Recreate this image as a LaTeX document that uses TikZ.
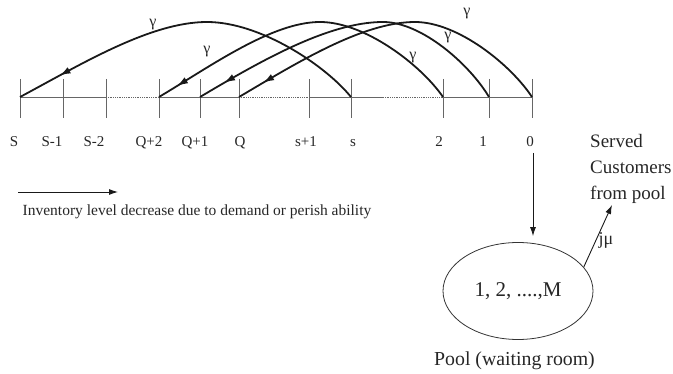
\documentclass[tikz,border=0pt]{standalone}
\usepackage{fontspec}
\setmainfont{Liberation Serif}
\usetikzlibrary{arrows.meta,decorations.markings,shapes.geometric}
\begin{document}
\begin{tikzpicture}[x=1pt,y=-1pt,
  axisline/.style={draw=black!60,line width=0.8pt},
  dotseg/.style={draw=black!60,line width=0.9pt,dash pattern=on 0.9pt off 0.9pt},
  lab/.style={anchor=base,inner sep=0pt,font=\fontsize{15}{18}\selectfont,text=black!85},
  glab/.style={inner sep=0pt,font=\fontsize{16}{18}\selectfont,text=black!85},
  arc/.style={line width=1.8pt,draw=black!90},
  arcmark/.style={postaction={decorate,decoration={markings,
      mark=at position #1 with {\arrow{Latex[length=11pt,width=7pt]}}}}},
  tip/.style={-{Latex[length=9pt,width=6pt]},line width=0.9pt,draw=black!90},
  srvtxt/.style={anchor=base west,inner sep=0pt,font=\fontsize{19}{26}\selectfont,text=black!85}
]
\useasboundingbox (0,0) rectangle (673,374);

% tick positions
\coordinate (tS)  at (20,97);
\coordinate (tS1) at (63,97);
\coordinate (tS2) at (106,97);
\coordinate (tQ2) at (159,97);
\coordinate (tQ1) at (200,97);
\coordinate (tQ)  at (239,97);
\coordinate (ts1) at (309,97);
\coordinate (ts)  at (351,97);
\coordinate (d1)  at (383,97);
\coordinate (t2)  at (443,97);
\coordinate (t1)  at (489,97);
\coordinate (t0)  at (532,97);

% axis
\draw[axisline] (tS) -- (tS2);
\draw[dotseg] (tS2) -- (tQ2);
\draw[axisline] (tQ2) -- (tQ);
\draw[dotseg] (tQ) -- (ts1);
\draw[axisline] (ts1) -- (d1);
\draw[dotseg] (d1) -- (t2);
\draw[axisline] (t2) -- (t0);
\foreach \n in {tS,tS1,tS2,tQ2,tQ1,tQ,ts1,ts,t2,t1,t0}
  \draw[axisline] (\n) ++(0,-18) -- ++(0,39);

% labels
\node[lab] (lS)  at (14,147)  {S};
\node[lab] (lS1) at (52,147)  {S-1};
\node[lab] (lS2) at (94,147)  {S-2};
\node[lab] (lQ2) at (149,147) {Q+2};
\node[lab] (lQ1) at (195,147) {Q+1};
\node[lab] (lQ)  at (240,147) {Q};
\node[lab] (ls1) at (306,147) {s+1};
\node[lab] (ls)  at (353,147) {s};
\node[lab] (l2)  at (439,147) {2};
\node[lab] (l1)  at (483,147) {1};
\node[lab] (l0)  at (530,147) {0};

% arcs
\draw[arc,arcmark=-45pt] (ts) .. controls (325,65) and (260,22) .. (207,22)
   .. controls (150,22) and (80,65) .. (tS);
\draw[arc,arcmark=-21pt] (t2) .. controls (421,65) and (365,22) .. (320,22)
   .. controls (272,22) and (211,66) .. (tQ2);
\draw[arc,arcmark=-28pt] (t1) .. controls (470,65) and (422,22) .. (383,22)
   .. controls (328,22) and (259,62) .. (tQ1);
\draw[arc,arcmark=-28pt] (t0) .. controls (511,65) and (458,22) .. (415,22)
   .. controls (362,22) and (295,64) .. (tQ);

% gamma labels
\node[glab] (g1) at (153,25) {γ};
\node[glab] (g2) at (207,52) {γ};
\node[glab] (g3) at (413,58) {γ};
\node[glab] (g4) at (448,38) {γ};
\node[glab] (g5) at (467,14) {γ};

% inventory arrow
\coordinate (ia) at (18,192);
\coordinate (ib) at (118,192);
\draw[tip] (ia) -- (ib);
\node[lab,font=\fontsize{15.5}{18}\selectfont] (inv) at (197,216)
  {Inventory level decrease due to demand or perish ability};

% pool
\node[draw=black!80,line width=0.8pt,ellipse,minimum width=150pt,minimum height=97pt,
  inner sep=0pt,font=\fontsize{21}{24}\selectfont,text=black!85] (pool) at (518,291) {1, 2, ....,M};
\node[lab,font=\fontsize{19.8}{22}\selectfont] (poollab) at (514.5,366) {Pool (waiting room)};
\coordinate (c0) at (533,153);
\draw[tip] (c0) -- ([yshift=6pt]pool.north -| c0);

% served
\node[srvtxt] (srv) at (590,148) {Served};
\node[srvtxt] (cus) at (590,174) {Customers};
\node[srvtxt] (frm) at (590,200) {from pool};
\coordinate (sv) at (612,205);
\draw[tip] (pool.20) -- (sv);
\node[glab,font=\fontsize{18}{20}\selectfont] (jmu) at (606,240) {jμ};
\end{tikzpicture}
\end{document}
